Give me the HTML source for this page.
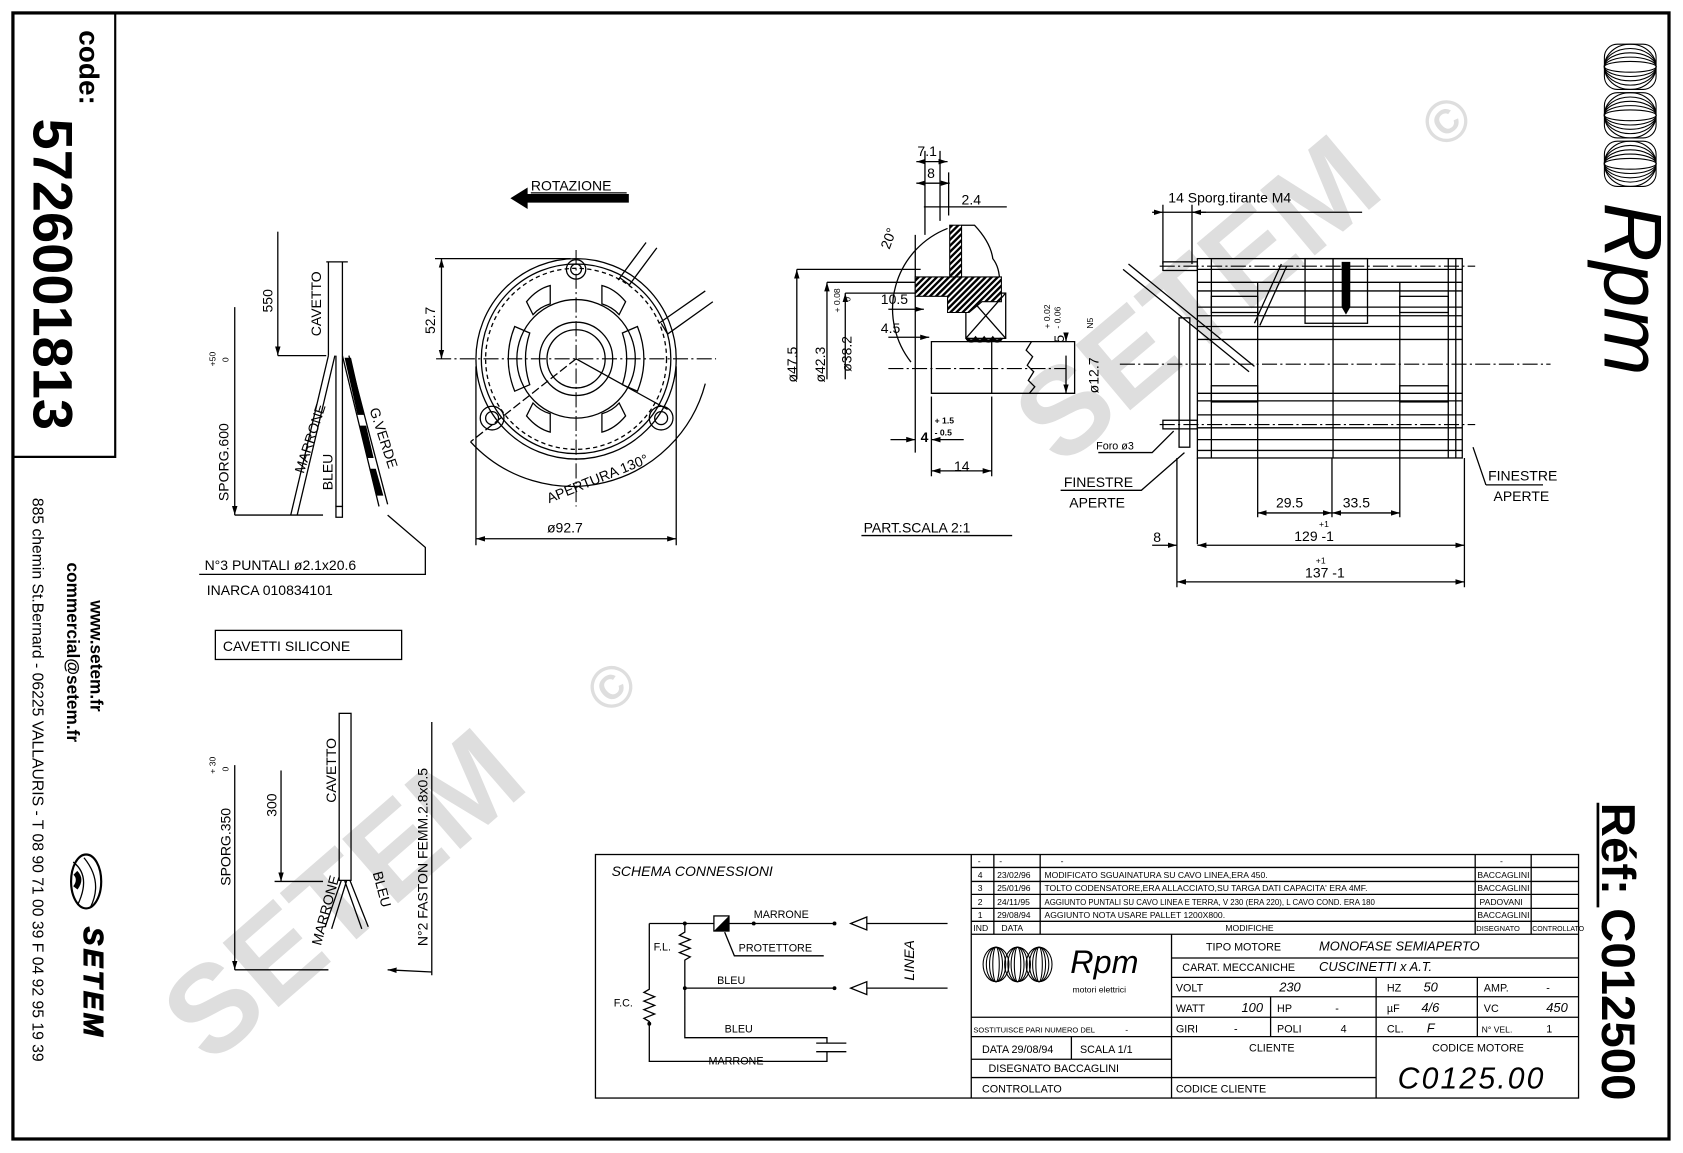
<!DOCTYPE html>
<html><head><meta charset="utf-8"><style>
html,body{margin:0;padding:0;background:#fff}
svg{display:block}
text{font-family:"Liberation Sans",sans-serif;fill:#000}
.t{font-size:13px}
.s{font-size:8px}
.m{font-size:10px}
.ln{stroke:#000;stroke-width:1.2;fill:none}
.th{stroke:#000;stroke-width:2;fill:none}
.cl{stroke:#000;stroke-width:1;fill:none;stroke-dasharray:14 3 2 3}
.wm{font-family:"Liberation Sans",sans-serif;font-weight:bold;fill:#dedede}
</style></head><body>
<svg width="1683" height="1153" viewBox="0 0 1563 1070" preserveAspectRatio="none" xmlns="http://www.w3.org/2000/svg">
<defs>
<marker id="a" viewBox="0 0 10 10" refX="10" refY="5" markerWidth="7" markerHeight="7" orient="auto-start-reverse"><path d="M0,2 L10,5 L0,8 z" fill="#000"/></marker>
<pattern id="h" width="4" height="4" patternUnits="userSpaceOnUse" patternTransform="rotate(45)"><rect width="4" height="4" fill="#fff"/><rect width="2.2" height="4" fill="#000"/></pattern>
</defs>

<!-- watermarks -->
<text class="wm" font-size="115" transform="translate(985,435) rotate(-40)">SETEM</text>
<text class="wm" font-size="55" transform="translate(1340,140) rotate(-40)">©</text>
<text class="wm" font-size="115" transform="translate(195,990) rotate(-41)">SETEM</text>
<text class="wm" font-size="55" transform="translate(565,665) rotate(-41)">©</text>

<!-- border -->
<rect x="12" y="12" width="1538" height="1045" fill="none" stroke="#000" stroke-width="3"/>
<path d="M107,12 V424 H12" class="th" stroke-width="2.5"/>
<text font-size="26" font-weight="bold" transform="translate(74,28) rotate(90)">code:</text>
<text font-size="52" font-weight="bold" transform="translate(31,110) rotate(90)">5726001813</text>
<text font-size="16" font-weight="bold" transform="translate(84,557) rotate(90)">www.setem.fr</text>
<text font-size="16" font-weight="bold" transform="translate(62,522) rotate(90)">commercial@setem.fr</text>
<text font-size="14.6" transform="translate(30,462) rotate(90)">885 chemin St.Bernard  -  06225 VALLAURIS  -  T 08 90 71 00 39   F 04 92 95 19 39</text>
<g transform="translate(80,818)"><ellipse cx="0" cy="0" rx="14" ry="25" fill="none" stroke="#000" stroke-width="2"/><path d="M-12,-18 Q5,-5 -8,22 M-2,-22 Q16,0 4,24" class="ln"/><path d="M-10,-8 q6,6 0,14" stroke="#000" stroke-width="5" fill="none"/></g>
<text font-size="26" font-style="italic" font-weight="bold" fill="#fff" stroke="#000" stroke-width="1" transform="translate(78,860) rotate(90)" letter-spacing="3">SETEM</text>

<!-- Rpm top right -->
<g fill="none" stroke="#000" stroke-width="1">
<g transform="translate(1514,62)"><ellipse rx="24" ry="21"/><ellipse rx="24" ry="17"/><ellipse rx="24" ry="13"/><ellipse rx="24" ry="9"/><ellipse rx="24" ry="5"/><rect x="-24" y="-21" width="48" height="42" rx="12"/></g>
<g transform="translate(1514,107)"><ellipse rx="24" ry="21"/><ellipse rx="24" ry="17"/><ellipse rx="24" ry="13"/><ellipse rx="24" ry="9"/><ellipse rx="24" ry="5"/><rect x="-24" y="-21" width="48" height="42" rx="12"/></g>
<g transform="translate(1514,152)"><ellipse rx="24" ry="21"/><ellipse rx="24" ry="17"/><ellipse rx="24" ry="13"/><ellipse rx="24" ry="9"/><ellipse rx="24" ry="5"/><rect x="-24" y="-21" width="48" height="42" rx="12"/></g>
</g>
<text font-family="Liberation Serif" font-style="italic" font-size="76" transform="translate(1490,188) rotate(90)">Rpm</text>
<text font-size="44" font-weight="bold" transform="translate(1488,745) rotate(90)">Réf: C012500</text>
<line x1="1484" y1="745" x2="1484" y2="842" stroke="#000" stroke-width="2.5"/>

<!-- ROTAZIONE -->
<text class="t" x="493" y="177">ROTAZIONE</text>
<line x1="493" y1="179" x2="582" y2="179" class="ln"/>
<path d="M584,180 V188 H490 V194 L474,184 L490,174 V180 Z" fill="#000"/>

<!-- front view -->
<g class="ln">
<line x1="405" y1="333" x2="665" y2="333" class="cl"/>
<line x1="535" y1="232" x2="535" y2="470" class="cl"/>
<circle cx="535" cy="333" r="93"/><circle cx="535" cy="333" r="88"/>
<circle cx="535" cy="333" r="84" stroke-dasharray="4 3"/>
<circle cx="535" cy="333" r="55"/><circle cx="535" cy="333" r="34"/><circle cx="535" cy="333" r="27"/>
<circle cx="535" cy="250" r="9"/><circle cx="535" cy="250" r="5"/>
<circle cx="457" cy="388" r="11"/><circle cx="457" cy="388" r="6"/>
<circle cx="614" cy="388" r="11"/><circle cx="614" cy="388" r="6"/>
<path d="M489,280 q10,-12 22,-15 v17 q-10,3 -16,10 z"/>
<path d="M581,280 q-10,-12 -22,-15 v17 q10,3 16,10 z"/>
<path d="M478,303 q-6,15 -6,30 q0,15 6,30 l14,-6 q-4,-12 -4,-24 q0,-12 4,-24 z"/>
<path d="M592,303 q6,15 6,30 q0,15 -6,30 l-14,-6 q4,-12 4,-24 q0,-12 -4,-24 z"/>
<path d="M489,386 q10,12 22,15 v-17 q-10,-3 -16,-10 z"/>
<path d="M581,386 q-10,12 -22,15 v-17 q10,-3 16,-10 z"/>
<line x1="535" y1="333" x2="437" y2="410" stroke-dasharray="8 3"/><line x1="535" y1="333" x2="620" y2="380"/>
<path d="M574,260 L600,225 M584,265 L610,230 M576,258 l8,6 M612,300 L655,270 M620,310 L662,280 M614,300 l6,10"/>
<path d="M437,410 A128,128 0 0 0 655,356" />
<line x1="404" y1="240" x2="530" y2="240"/>
<line x1="410" y1="240" x2="410" y2="333" marker-start="url(#a)" marker-end="url(#a)"/>
<line x1="442" y1="340" x2="442" y2="506"/><line x1="628" y1="340" x2="628" y2="506"/>
<line x1="442" y1="500" x2="628" y2="500" marker-start="url(#a)" marker-end="url(#a)"/>
</g>
<text class="t" transform="translate(404,310) rotate(-90)">52.7</text>
<text class="t" x="508" y="494">ø92.7</text>
<text class="t" transform="translate(510,467) rotate(-22)">APERTURA 130°</text>

<!-- top-left wires -->
<g class="ln">
<line x1="258" y1="215" x2="258" y2="330" marker-end="url(#a)"/><line x1="258" y1="330" x2="303" y2="330"/>
<line x1="305" y1="243" x2="305" y2="330"/><line x1="318" y1="243" x2="318" y2="330"/>
<path d="M303,243 h20"/>
<line x1="218" y1="285" x2="218" y2="478" marker-end="url(#a)"/><line x1="218" y1="478" x2="300" y2="478"/>
<path d="M305,330 L270,478 M311,330 L276,478"/>
<path d="M312,330 V470 M318,330 V470"/><path d="M312,470 h6 v10 h-6 z"/>
<path d="M318,330 L352,470 M324,330 L360,468"/>
<path d="M360,478 L395,508 V533 H185"/>
</g>
<path d="M320,332 L326,332 L338,385 L332,385 Z M334,395 l6,0 l7,30 l-6,0z M343,435 l6,0 l7,25 l-6,0z" fill="#000"/>
<text class="t" transform="translate(253,290) rotate(-90)">550</text>
<text class="t" transform="translate(298,312) rotate(-90)">CAVETTO</text>
<text class="t" transform="translate(212,465) rotate(-90)">SPORG.600</text>
<text class="s" transform="translate(200,340) rotate(-90)">+50</text>
<text class="s" transform="translate(212,336) rotate(-90)">0</text>
<text class="t" transform="translate(282,440) rotate(-72)">MARRONE</text>
<text class="t" transform="translate(309,455) rotate(-90)">BLEU</text>
<text class="t" transform="translate(343,380) rotate(72)">G.VERDE</text>
<text class="t" x="190" y="529">N°3 PUNTALI  ø2.1x20.6</text>
<text class="t" x="192" y="552">INARCA   010834101</text>
<rect x="200" y="585" width="173" height="27" class="ln"/>
<text class="t" x="207" y="604">CAVETTI SILICONE</text>

<!-- bottom-left wires -->
<g class="ln">
<line x1="261" y1="715" x2="261" y2="818" marker-end="url(#a)"/><line x1="255" y1="818" x2="300" y2="818"/>
<rect x="315" y="662" width="11" height="155"/>
<line x1="218" y1="710" x2="218" y2="900" marker-end="url(#a)"/><line x1="218" y1="900" x2="305" y2="900"/>
<path d="M317,817 L302,860 M322,817 L308,862 M320,817 L336,862 M325,817 L342,860"/>
<line x1="401" y1="670" x2="401" y2="905"/><line x1="401" y1="902" x2="360" y2="900" marker-end="url(#a)"/>
</g>
<text class="t" transform="translate(257,758) rotate(-90)">300</text>
<text class="t" transform="translate(312,745) rotate(-90)">CAVETTO</text>
<text class="t" transform="translate(214,822) rotate(-90)">SPORG.350</text>
<text class="s" transform="translate(200,718) rotate(-90)">+ 30</text>
<text class="s" transform="translate(212,716) rotate(-90)">0</text>
<text class="t" transform="translate(298,878) rotate(-75)">MARRONE</text>
<text class="t" transform="translate(346,810) rotate(75)">BLEU</text>
<text class="t" transform="translate(397,878) rotate(-90)">N°2 FASTON FEMM.2.8x0.5</text>

<!-- partial section -->
<g class="ln">
<line x1="825" y1="342" x2="990" y2="342" class="cl"/>
<path d="M865,317 H998 V365 H865 Z"/><path d="M921,317 V365"/>
<path d="M958,317 l-5,8 l6,6 l-5,8 l6,6 l-5,8 l6,6 l-5,6"/>
<rect x="897" y="272" width="37" height="42"/><path d="M897,272 L934,314 M934,272 L897,314"/>
<path d="M893,209 L905,209 Q920,225 922,240 Q930,250 928,270"/>
<path d="M850,218 V420"/><path d="M859,140 V218 M873,140 V205 M881,160 V200"/>
<line x1="851" y1="150" x2="880" y2="150" marker-start="url(#a)" marker-end="url(#a)"/>
<line x1="851" y1="170" x2="882" y2="170" marker-start="url(#a)" marker-end="url(#a)"/>
<line x1="858" y1="192" x2="935" y2="192"/>
<path d="M846,336 A80,80 0 0 1 880,212"/>
<line x1="740" y1="250" x2="855" y2="250"/><line x1="740" y1="352" x2="740" y2="250" marker-end="url(#a)"/>
<line x1="768" y1="262" x2="850" y2="262"/><line x1="768" y1="352" x2="768" y2="262" marker-end="url(#a)"/>
<line x1="785" y1="272" x2="860" y2="272"/><line x1="785" y1="352" x2="785" y2="272" marker-end="url(#a)"/>
<line x1="825" y1="287" x2="858" y2="287" marker-end="url(#a)"/>
<line x1="825" y1="313" x2="863" y2="313" marker-end="url(#a)"/>
<line x1="990" y1="310" x2="990" y2="317" marker-end="url(#a)"/>
<line x1="990" y1="330" x2="990" y2="365" marker-end="url(#a)"/>
<line x1="865" y1="368" x2="865" y2="442"/><line x1="921" y1="368" x2="921" y2="442"/>
<line x1="865" y1="437" x2="921" y2="437" marker-start="url(#a)" marker-end="url(#a)"/>
<line x1="827" y1="408" x2="850" y2="408" marker-end="url(#a)"/><line x1="895" y1="408" x2="865" y2="408" marker-end="url(#a)"/>
</g>
<rect x="882" y="209" width="11" height="60" fill="url(#h)" stroke="#000"/>
<path d="M850,257 H930 V280 H912 L900,290 H880 V275 H850 Z" fill="url(#h)" stroke="#000"/>
<path d="M898,314 q4,5 8,0 q4,5 8,0 q4,5 8,0 q4,5 8,0" stroke="#000" stroke-width="3" fill="none"/>
<text class="t" x="852" y="145">7.1</text><text class="t" x="861" y="165">8</text><text class="t" x="893" y="190">2.4</text>
<text class="t" transform="translate(826,232) rotate(-70)">20°</text>
<text class="t" x="818" y="282">10.5</text><text class="t" x="818" y="309">4.5</text>
<text class="t" transform="translate(740,355) rotate(-90)">ø47.5</text>
<text class="t" transform="translate(766,355) rotate(-90)">ø42.3</text>
<text class="t" transform="translate(791,345) rotate(-90)">ø38.2</text>
<text class="s" transform="translate(780,290) rotate(-90)">+ 0.08</text>
<text class="s" transform="translate(790,280) rotate(-90)">0</text>
<text class="t" transform="translate(988,318) rotate(-90)">5</text>
<text class="s" transform="translate(975,305) rotate(-90)">+ 0.02</text>
<text class="s" transform="translate(985,305) rotate(-90)">- 0.06</text>
<text class="s" transform="translate(1015,305) rotate(-90)">N5</text>
<text class="t" transform="translate(1020,365) rotate(-90)">ø12.7</text>
<text class="t" x="855" y="410" font-weight="bold">4</text>
<text class="s" x="868" y="393" font-weight="bold">+ 1.5</text><text class="s" x="868" y="404" font-weight="bold">- 0.5</text>
<text class="t" x="886" y="437">14</text>
<text class="t" x="802" y="494">PART.SCALA 2:1</text><line x1="800" y1="497" x2="940" y2="497" class="ln"/>

<!-- side view -->
<g class="ln">
<rect x="1112" y="240" width="246" height="185"/>
<path d="M1112,250H1358 M1112,262H1358 M1112,270H1358 M1112,285H1358 M1112,293H1358 M1112,303H1358 M1112,315H1358 M1112,365H1358 M1112,372H1358 M1112,385H1358 M1112,397H1358 M1112,408H1358 M1112,418H1358"/>
<path d="M1125,240V425 M1168,262V425 M1238,240V425 M1300,262V425 M1345,240V425 M1352,240V425"/>
<rect x="1212" y="240" width="58" height="60"/>
<rect x="1125" y="275" width="43" height="15"/><rect x="1125" y="358" width="43" height="15"/>
<rect x="1300" y="275" width="45" height="15"/><rect x="1300" y="358" width="45" height="15"/>
<rect x="1095" y="295" width="10" height="120"/>
<line x1="1040" y1="338" x2="1440" y2="338" class="cl"/>
<line x1="1077" y1="247" x2="1370" y2="247" class="cl"/><line x1="1077" y1="394" x2="1370" y2="394" class="cl"/>
<rect x="1080" y="243" width="32" height="8"/><rect x="1080" y="390" width="32" height="8"/>
<line x1="1080" y1="197" x2="1265" y2="197"/><line x1="1080" y1="190" x2="1080" y2="245"/><line x1="1107" y1="190" x2="1107" y2="245"/>
<line x1="1070" y1="197" x2="1080" y2="197" marker-end="url(#a)"/><line x1="1120" y1="197" x2="1107" y2="197" marker-end="url(#a)"/>
<line x1="1043" y1="250" x2="1160" y2="345"/><line x1="1048" y1="245" x2="1165" y2="340"/>
<line x1="1165" y1="300" x2="1190" y2="245"/><line x1="1170" y1="302" x2="1195" y2="247"/>
<line x1="1093" y1="425" x2="1093" y2="545"/><line x1="1112" y1="425" x2="1112" y2="505"/>
<line x1="1360" y1="425" x2="1360" y2="545"/>
<line x1="1168" y1="425" x2="1168" y2="480"/><line x1="1237" y1="425" x2="1237" y2="480"/><line x1="1300" y1="425" x2="1300" y2="480"/>
<line x1="1168" y1="476" x2="1237" y2="476" marker-start="url(#a)" marker-end="url(#a)"/>
<line x1="1237" y1="476" x2="1300" y2="476" marker-start="url(#a)" marker-end="url(#a)"/>
<line x1="1112" y1="506" x2="1360" y2="506" marker-start="url(#a)" marker-end="url(#a)"/>
<line x1="1070" y1="506" x2="1093" y2="506" marker-end="url(#a)"/>
<line x1="1093" y1="540" x2="1360" y2="540" marker-start="url(#a)" marker-end="url(#a)"/>
<path d="M1020,420 H1070 L1090,400"/><path d="M985,455 H1060 L1100,420"/><path d="M1380,450 H1433 M1380,450 L1368,415"/>
</g>
<path d="M1246,243 V285 L1250,292 L1254,285 V243 Z" fill="#000"/>
<text class="t" x="1085" y="188">14 Sporg.tirante M4</text>
<text class="t" x="1185" y="471">29.5</text><text class="t" x="1247" y="471">33.5</text>
<text class="t" x="1202" y="502">129 -1</text><text class="s" x="1225" y="489">+1</text>
<text class="t" x="1212" y="536">137 -1</text><text class="s" x="1222" y="523">+1</text>
<text class="t" x="1071" y="503">8</text>
<text class="m" x="1018" y="417">Foro ø3</text>
<text class="t" x="988" y="452">FINESTRE</text><text class="t" x="993" y="471">APERTE</text>
<text class="t" x="1382" y="446">FINESTRE</text><text class="t" x="1387" y="465">APERTE</text>

<!-- schema connessioni -->
<g class="ln" stroke-width="1">
<rect x="553" y="793" width="913" height="226"/>
<line x1="902" y1="793" x2="902" y2="1019"/>
<path d="M603,857 H663 M677,857 H775 M603,857 V918 l-5,3 l10,4 l-10,4 l10,4 l-10,4 l10,4 l-10,4 l5,3 V985 H768 V976 M636,857 V865 l-5,3 l10,4 l-10,4 l10,4 l-10,4 l10,4 l-5,3 V963 H768 V968 M636,917 H775"/>
<path d="M758,968 H786 M758,976 H786"/>
<rect x="663" y="850" width="14" height="14"/>
<path d="M673,865 L682,887 H765"/>
<path d="M805,851 L790,857 L805,863 Z M805,857 H880 M805,911 L790,917 L805,923 Z M805,917 H880"/>
</g>
<path d="M663,864 L677,850 V864 Z" fill="#000"/>
<g fill="#000"><circle cx="636" cy="857" r="1.8"/><circle cx="700" cy="857" r="1.8"/><circle cx="775" cy="857" r="1.8"/><circle cx="636" cy="917" r="1.8"/><circle cx="775" cy="917" r="1.8"/><circle cx="603" cy="950" r="1.8"/></g>
<text class="t" font-style="italic" font-family="Liberation Serif" x="568" y="813">SCHEMA CONNESSIONI</text>
<text class="m" x="700" y="852">MARRONE</text><text class="m" x="686" y="883">PROTETTORE</text>
<text class="m" x="607" y="882">F.L.</text><text class="m" x="570" y="934">F.C.</text>
<text class="m" x="666" y="913">BLEU</text><text class="m" x="673" y="958">BLEU</text><text class="m" x="658" y="988">MARRONE</text>
<text class="t" font-family="Liberation Serif" font-style="italic" transform="translate(849,910) rotate(-90)">LINEA</text>

<!-- title block -->
<g class="ln" stroke-width="1">
<path d="M902,805H1466 M902,818H1466 M902,830H1466 M902,843H1466 M902,855H1466 M902,867H1466"/>
<path d="M923,793V867 M966,793V867 M1370,793V867 M1422,793V867"/>
<path d="M1088,867V1019 M1088,889H1466 M1088,907H1466 M1088,925H1466 M902,944H1466 M902,962H1466 M902,983H1088 M902,1000H1088 M1088,1000H1278"/>
<path d="M1180,925V962 M1278,907V1019 M1372,907V962"/>
<path d="M995,962V983"/>
</g>
<g class="s">
<text x="908" y="802">-</text><text x="928" y="802">-</text><text x="985" y="802">-</text><text x="1393" y="802">-</text>
<text x="908" y="815">4</text><text x="926" y="815">23/02/96</text><text x="970" y="815">MODIFICATO SGUAINATURA SU CAVO LINEA,ERA 450.</text><text x="1372" y="815">BACCAGLINI</text>
<text x="908" y="827">3</text><text x="926" y="827">25/01/96</text><text x="970" y="827">TOLTO CODENSATORE,ERA ALLACCIATO,SU TARGA DATI CAPACITA' ERA 4MF.</text><text x="1372" y="827">BACCAGLINI</text>
<text x="908" y="840">2</text><text x="926" y="840">24/11/95</text><text x="970" y="840" font-size="7.3">AGGIUNTO PUNTALI SU CAVO LINEA E TERRA, V 230 (ERA 220), L CAVO COND. ERA 180</text><text x="1374" y="840">PADOVANI</text>
<text x="908" y="852">1</text><text x="926" y="852">29/08/94</text><text x="970" y="852">AGGIUNTO NOTA USARE PALLET 1200X800.</text><text x="1372" y="852">BACCAGLINI</text>
<text x="904" y="864">IND</text><text x="930" y="864">DATA</text><text x="1138" y="864">MODIFICHE</text><text x="1371" y="864" font-size="7">DISEGNATO</text><text x="1423" y="864" font-size="6.5">CONTROLLATO</text>
<text x="904" y="958" font-size="7">SOSTITUISCE PARI NUMERO DEL</text><text x="1045" y="958">-</text>
</g>
<g class="m">
<text x="1120" y="882">TIPO MOTORE</text><text x="1225" y="882" font-style="italic" font-family="Liberation Serif" font-size="12">MONOFASE SEMIAPERTO</text>
<text x="1098" y="901">CARAT. MECCANICHE</text><text x="1225" y="901" font-style="italic" font-family="Liberation Serif" font-size="12">CUSCINETTI x A.T.</text>
<text x="1092" y="920">VOLT</text><text x="1188" y="920" font-style="italic" font-size="12">230</text><text x="1288" y="920">HZ</text><text x="1322" y="920" font-style="italic" font-size="12">50</text><text x="1378" y="920">AMP.</text><text x="1436" y="920">-</text>
<text x="1092" y="939">WATT</text><text x="1153" y="939" font-style="italic" font-size="12">100</text><text x="1186" y="939">HP</text><text x="1240" y="939">-</text><text x="1288" y="939">µF</text><text x="1320" y="939" font-style="italic" font-size="12">4/6</text><text x="1378" y="939">VC</text><text x="1436" y="939" font-style="italic" font-size="12">450</text>
<text x="1092" y="958">GIRI</text><text x="1146" y="958">-</text><text x="1186" y="958">POLI</text><text x="1245" y="958">4</text><text x="1288" y="958">CL.</text><text x="1325" y="958" font-style="italic" font-size="12">F</text><text x="1376" y="958" font-size="8">N° VEL.</text><text x="1436" y="958">1</text>
<text x="912" y="977">DATA   29/08/94</text><text x="1003" y="977">SCALA    1/1</text>
<text x="1160" y="976">CLIENTE</text><text x="1330" y="976">CODICE MOTORE</text>
<text x="918" y="995">DISEGNATO      BACCAGLINI</text>
<text x="912" y="1014">CONTROLLATO</text><text x="1092" y="1014">CODICE CLIENTE</text>
</g>
<text x="1298" y="1010" font-size="28" font-style="italic" font-family="Liberation Sans" letter-spacing="2">C0125.00</text>
<g fill="none" stroke="#000" stroke-width="1">
<g transform="translate(925,895)"><ellipse rx="12" ry="16"/><ellipse rx="9" ry="16"/><ellipse rx="6" ry="16"/><ellipse rx="3" ry="16"/></g>
<g transform="translate(945,895)"><ellipse rx="12" ry="16"/><ellipse rx="9" ry="16"/><ellipse rx="6" ry="16"/><ellipse rx="3" ry="16"/></g>
<g transform="translate(965,895)"><ellipse rx="12" ry="16"/><ellipse rx="9" ry="16"/><ellipse rx="6" ry="16"/><ellipse rx="3" ry="16"/></g>
</g>
<text x="994" y="903" font-family="Liberation Serif" font-style="italic" font-size="30">Rpm</text>
<text x="996" y="921" font-family="Liberation Mono" font-size="8">motori elettrici</text>
</svg>
</body></html>
